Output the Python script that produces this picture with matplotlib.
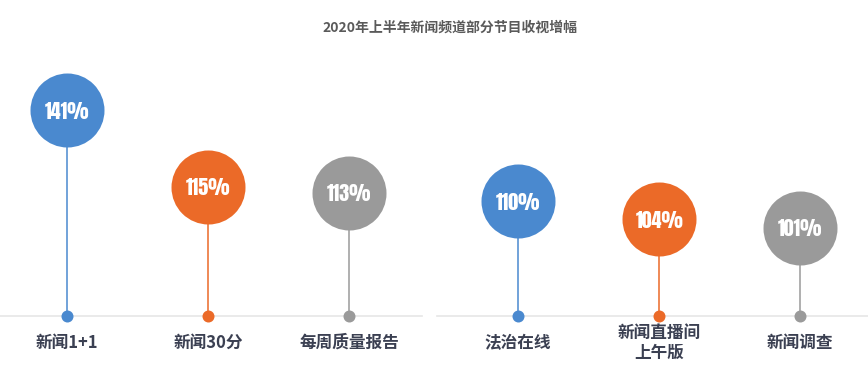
import matplotlib
matplotlib.use("Agg")
import matplotlib.pyplot as plt
from matplotlib import font_manager

plt.rcParams['font.family'] = ['Noto Sans CJK SC', 'DejaVu Sans']

title = "2020年上半年新闻频道部分节目收视增幅"
categories = ["新闻1+1", "新闻30分", "每周质量报告", "法治在线", "新闻直播间\n上午版", "新闻调查"]
values = [141, 115, 113, 110, 104, 101]
colors = ["#4a89cf", "#eb6a28", "#9a9a9a", "#4a89cf", "#eb6a28", "#9a9a9a"]

# layout: two groups of three
positions = [i + (0.2 if i >= 3 else 0.0) for i in range(len(values))]
baseline = 71.2

names = {f.name for f in font_manager.fontManager.ttflist}
num_family = 'DejaVu Sans'
for cand in ["Anton", "Oswald", "Bebas Neue", "Liberation Sans Narrow"]:
    if cand in names:
        num_family = cand
        break

fig = plt.figure(figsize=(8.68, 3.84), dpi=100)
ax = fig.add_axes([0, 0, 1, 1])
ax.set_xlim(-0.475, 5.681)
ax.set_ylim(48.1, 178.3)
ax.axis('off')

# baseline segments
ax.plot([-0.475, 2.518], [baseline, baseline], color="#e6e6e6", lw=1.2, zorder=1)
ax.plot([2.624, 5.681], [baseline, baseline], color="#e6e6e6", lw=1.2, zorder=1)

for x, v, c, lab in zip(positions, values, colors, categories):
    ax.plot([x, x], [baseline, v], color=c, lw=1.1, zorder=2)
    ax.scatter([x], [baseline], s=(12 * 0.72) ** 2, color=c, zorder=3, linewidths=0)
    ax.scatter([x], [v], s=(74 * 0.72) ** 2, color=c, zorder=4, linewidths=0)
    ax.text(x, v, f"{v}%", ha='center', va='center_baseline', color='white',
            fontsize=14.5, family=[num_family, 'DejaVu Sans'],
            zorder=5)
    ax.annotate(lab, xy=(x, baseline), xytext=(0, -27 * 0.72),
                textcoords='offset points', ha='center', va='center',
                fontsize=12, fontweight='bold', color="#3b4052",
                linespacing=1.1)

fig.text(450 / 868, 1 - 28 / 384, title, ha='center', va='center', fontsize=10,
         fontweight='bold', color="#5a5a5a")

fig.savefig("out.png", dpi=100, facecolor='white')
